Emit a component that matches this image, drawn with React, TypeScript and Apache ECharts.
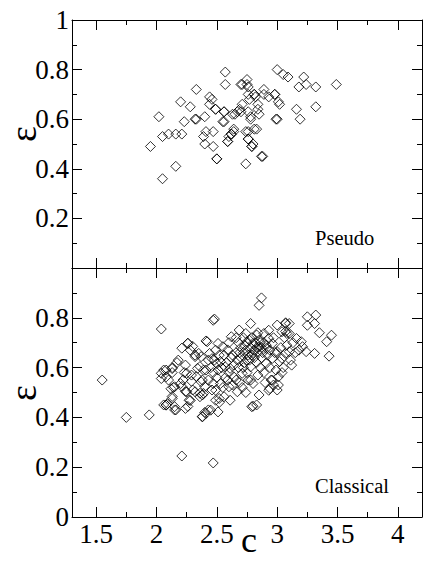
import React, { useEffect, useRef } from 'react';
import * as echarts from 'echarts';

// x tick values
const xMajorTicks = [1.5, 2, 2.5, 3, 3.5, 4];
const xMinorTicks = [1.75, 2.25, 2.75, 3.25, 3.75];

// Pseudo panel: [c, epsilon]
const pseudoPoints: number[][] = [
  [1.95, 0.49], [2.02, 0.61], [2.05, 0.36], [2.05, 0.53], [2.10, 0.54], [2.16, 0.54], [2.21, 0.54],
  [2.16, 0.41], [2.20, 0.67], [2.28, 0.65], [2.33, 0.72], [2.23, 0.59], [2.32, 0.60], [2.33, 0.60],
  [2.40, 0.61], [2.39, 0.53], [2.41, 0.55], [2.40, 0.50], [2.44, 0.69], [2.44, 0.66], [2.46, 0.68],
  [2.49, 0.64], [2.47, 0.55], [2.47, 0.49], [2.50, 0.44], [2.56, 0.63], [2.56, 0.59], [2.57, 0.79],
  [2.57, 0.74], [2.59, 0.51], [2.60, 0.53], [2.62, 0.54], [2.64, 0.55], [2.65, 0.62], [2.69, 0.64],
  [2.70, 0.63], [2.71, 0.74], [2.75, 0.76], [2.76, 0.73], [2.77, 0.68], [2.78, 0.61], [2.74, 0.55],
  [2.76, 0.52], [2.80, 0.50], [2.79, 0.49], [2.81, 0.56], [2.74, 0.42], [2.81, 0.70], [2.82, 0.69],
  [2.84, 0.66], [2.85, 0.62], [2.89, 0.72], [2.93, 0.69], [2.98, 0.70], [3.02, 0.66], [3.00, 0.60],
  [3.00, 0.80], [3.05, 0.78], [3.09, 0.77], [2.88, 0.45], [3.16, 0.64], [3.19, 0.60], [3.18, 0.73],
  [3.22, 0.77], [3.24, 0.74], [3.32, 0.73], [3.32, 0.65], [3.49, 0.74],
  [2.70, 0.74], [2.75, 0.74], [2.81, 0.70], [2.89, 0.70], [2.98, 0.70], [3.01, 0.67], [2.76, 0.70],
  [2.71, 0.66], [2.84, 0.64], [2.76, 0.63], [2.67, 0.63], [2.63, 0.62], [2.56, 0.63], [2.49, 0.64],
  [2.55, 0.59], [2.78, 0.60], [2.99, 0.60], [2.64, 0.56], [2.62, 0.54], [2.59, 0.51], [2.76, 0.55],
  [2.83, 0.56], [2.76, 0.52], [2.79, 0.49], [2.87, 0.45], [2.50, 0.44],
];

// Classical panel: [c, epsilon]
const classicalPoints: number[][] = [
  [1.55, 0.55], [1.75, 0.40], [1.94, 0.41], [2.04, 0.755], [2.21, 0.245], [2.47, 0.217], [2.85, 0.85],
  [2.87, 0.88], [2.47, 0.79], [2.48, 0.795], [2.80, 0.445], [2.85, 0.49],
  [2.04, 0.577], [2.06, 0.59], [2.08, 0.59], [2.13, 0.60], [2.10, 0.55], [2.14, 0.52], [2.13, 0.484],
  [2.08, 0.45], [2.09, 0.455], [2.16, 0.43], [2.21, 0.678], [2.26, 0.698], [2.30, 0.685], [2.18, 0.63],
  [2.24, 0.61], [2.22, 0.55], [2.25, 0.577], [2.21, 0.524], [2.24, 0.504], [2.26, 0.444], [2.28, 0.468],
  [2.30, 0.51], [2.33, 0.564], [2.36, 0.604], [2.37, 0.644], [2.41, 0.707], [2.35, 0.657], [2.32, 0.644],
  [2.38, 0.55], [2.38, 0.49], [2.38, 0.404], [2.40, 0.42], [2.43, 0.43], [2.41, 0.59], [2.43, 0.63],
  [2.44, 0.657], [2.40, 0.524], [2.36, 0.497],
  [2.42, 0.704], [2.26, 0.697], [2.28, 0.67], [2.49, 0.67], [2.32, 0.65], [2.46, 0.636], [2.50, 0.616],
  [2.17, 0.62], [2.13, 0.596], [2.04, 0.556], [2.08, 0.563], [2.13, 0.58], [2.23, 0.58], [2.29, 0.57],
  [2.34, 0.597], [2.39, 0.59], [2.43, 0.55], [2.47, 0.536], [2.37, 0.543], [2.29, 0.545], [2.20, 0.536],
  [2.15, 0.523], [2.12, 0.515], [2.25, 0.503], [2.32, 0.503], [2.39, 0.496], [2.46, 0.51], [2.13, 0.476],
  [2.27, 0.469], [2.36, 0.483], [2.49, 0.469], [2.06, 0.45], [2.15, 0.443], [2.08, 0.449], [2.15, 0.43],
  [2.24, 0.436], [2.38, 0.402], [2.41, 0.416], [2.45, 0.429], [2.51, 0.422], [2.52, 0.46], [2.79, 0.443],
  [2.78, 0.777], [3.0, 0.771], [3.07, 0.777], [3.08, 0.737], [3.04, 0.744], [2.685, 0.751], [2.74, 0.737],
  [2.62, 0.724], [2.83, 0.731], [2.89, 0.737], [2.93, 0.717], [2.75, 0.704], [2.80, 0.697], [2.85, 0.684],
  [2.91, 0.677], [2.96, 0.697], [3.0, 0.664], [3.04, 0.637], [3.07, 0.657], [3.02, 0.624], [2.96, 0.637],
  [2.91, 0.617], [2.99, 0.59], [2.95, 0.55], [3.01, 0.563], [2.93, 0.509], [2.80, 0.536], [2.83, 0.45],
  [2.76, 0.55], [2.78, 0.603], [2.71, 0.577], [2.67, 0.63], [2.63, 0.65], [2.59, 0.671], [2.55, 0.684],
  [2.51, 0.697], [2.48, 0.63], [2.53, 0.624], [2.57, 0.603], [2.61, 0.597], [2.51, 0.59], [2.64, 0.563],
  [2.59, 0.55], [2.53, 0.536], [2.49, 0.509], [2.60, 0.523], [2.67, 0.503], [2.56, 0.483], [2.52, 0.476],
  [2.61, 0.469],
  [2.70, 0.68], [2.72, 0.66], [2.74, 0.67], [2.76, 0.65], [2.78, 0.68], [2.80, 0.66], [2.82, 0.70],
  [2.84, 0.66], [2.86, 0.70], [2.88, 0.66], [2.68, 0.70], [2.70, 0.64], [2.73, 0.62], [2.77, 0.63],
  [2.81, 0.64], [2.83, 0.62], [2.87, 0.64], [2.89, 0.70], [2.66, 0.66], [2.64, 0.61], [2.68, 0.60],
  [2.72, 0.60], [2.75, 0.58], [2.62, 0.64], [2.58, 0.62], [2.56, 0.65], [2.54, 0.60], [2.60, 0.58],
  [2.57, 0.56], [2.63, 0.53], [2.66, 0.55], [2.69, 0.54], [2.71, 0.52], [2.55, 0.52],
  [2.60, 0.70], [2.66, 0.72], [2.72, 0.72], [2.79, 0.72], [2.84, 0.74], [2.93, 0.75], [2.97, 0.72],
  [2.92, 0.65], [2.94, 0.60], [2.89, 0.58], [2.86, 0.60], [2.84, 0.57], [2.90, 0.54], [2.97, 0.53],
  [2.74, 0.50], [2.98, 0.66], [2.50, 0.56], [2.52, 0.65], [2.45, 0.60], [2.47, 0.58],
  [2.73, 0.69], [2.77, 0.71], [2.81, 0.67], [2.85, 0.71], [2.87, 0.68], [2.91, 0.69], [2.79, 0.65],
  [2.83, 0.68], [2.69, 0.66], [2.75, 0.63], [2.94, 0.67],
  [3.25, 0.804], [3.32, 0.811], [3.25, 0.77], [3.31, 0.777], [3.35, 0.74], [3.45, 0.73], [3.41, 0.704],
  [3.43, 0.646], [3.31, 0.657], [3.24, 0.664], [3.20, 0.704], [3.16, 0.717], [3.21, 0.684], [3.18, 0.67],
  [3.10, 0.664], [3.11, 0.63], [3.10, 0.737], [3.10, 0.777], [3.07, 0.78], [3.07, 0.745], [3.01, 0.53],
  [2.96, 0.55], [2.94, 0.516], [2.78, 0.55], [3.05, 0.60], [3.08, 0.69], [3.13, 0.70], [3.06, 0.72],
  [3.03, 0.68], [3.12, 0.61], [3.04, 0.58], [3.00, 0.51], [3.15, 0.66],
];

const FONT = 'Times New Roman';
const X_MIN = 1.3;
const X_MAX = 4.2;

function xAxesFor(gridIndex: number, showLabels: boolean) {
  const base = {
    type: 'value',
    gridIndex,
    min: X_MIN,
    max: X_MAX,
    splitLine: { show: false },
  };
  const lineStyle = { color: '#000', width: 1 };
  return [
    {
      ...base,
      position: 'bottom',
      axisLine: { show: true, onZero: false, lineStyle },
      axisTick: { show: true, inside: true, length: 10, customValues: xMajorTicks, lineStyle },
      axisLabel: {
        show: showLabels,
        customValues: xMajorTicks,
        formatter: (v: number) => String(v),
        fontFamily: FONT,
        fontSize: 27,
        color: '#000',
        margin: 3,
      },
    },
    {
      ...base,
      position: 'bottom',
      axisLine: { show: false, onZero: false },
      axisTick: { show: true, inside: true, length: 5, customValues: xMinorTicks, lineStyle },
      axisLabel: { show: false },
    },
    {
      ...base,
      position: 'top',
      axisLine: { show: true, onZero: false, lineStyle },
      axisTick: { show: true, inside: true, length: 10, customValues: xMajorTicks, lineStyle },
      axisLabel: { show: false },
    },
    {
      ...base,
      position: 'top',
      axisLine: { show: false, onZero: false },
      axisTick: { show: true, inside: true, length: 5, customValues: xMinorTicks, lineStyle },
      axisLabel: { show: false },
    },
  ];
}

function yAxesFor(gridIndex: number, top: boolean) {
  const lineStyle = { color: '#000', width: 1 };
  const base = {
    type: 'value',
    gridIndex,
    min: 0,
    max: 1,
    interval: 0.2,
    splitLine: { show: false },
    axisLine: { show: true, onZero: false, lineStyle },
    axisTick: { show: true, inside: true, length: 10, lineStyle },
    minorTick: { show: true, splitNumber: 2, length: 5, lineStyle },
  };
  return [
    {
      ...base,
      position: 'left',
      axisLabel: {
        show: true,
        showMinLabel: !top,
        showMaxLabel: top,
        fontFamily: FONT,
        fontSize: 27,
        color: '#000',
        margin: 3,
      },
    },
    {
      ...base,
      position: 'right',
      axisLabel: { show: false },
    },
  ];
}

function label(text: string, x: number, y: number, size: number, align: string, rotation = 0) {
  return {
    type: 'text',
    x,
    y,
    rotation,
    style: {
      text,
      fontFamily: FONT,
      fontSize: size,
      fill: '#000',
      textAlign: align,
      textVerticalAlign: 'middle',
    },
  };
}

export default function App() {
  const ref = useRef<HTMLDivElement>(null);
  useEffect(() => {
    if (!ref.current) return;
    const chart = echarts.init(ref.current, null, { renderer: 'svg' });
    const symbolStyle = { color: 'rgba(0,0,0,0)', borderColor: '#000', borderWidth: 1 };
    chart.setOption({
      animation: false,
      backgroundColor: '#fff',
      grid: [
        { left: 72, top: 20, width: 350, height: 248 },
        { left: 72, top: 268, width: 350, height: 249 },
      ],
      xAxis: [...xAxesFor(0, false), ...xAxesFor(1, true)],
      yAxis: [...yAxesFor(0, true), ...yAxesFor(1, false)],
      series: [
        {
          type: 'scatter',
          xAxisIndex: 0,
          yAxisIndex: 0,
          data: pseudoPoints,
          symbol: 'diamond',
          symbolSize: 10,
          itemStyle: symbolStyle,
        },
        {
          type: 'scatter',
          xAxisIndex: 4,
          yAxisIndex: 2,
          data: classicalPoints,
          symbol: 'diamond',
          symbolSize: 10,
          itemStyle: symbolStyle,
        },
      ],
      graphic: [
        label('ε', 23, 134, 38, 'center', Math.PI / 2),
        label('ε', 23, 393, 38, 'center', Math.PI / 2),
        label('c', 249, 540, 36, 'center'),
        label('Pseudo', 315, 238, 20.5, 'left'),
        label('Classical', 315, 486, 20.5, 'left'),
      ],
    });
    return () => chart.dispose();
  }, []);
  return (
    <div
      ref={ref}
      style={{ position: 'fixed', left: 0, top: 0, width: 424, height: 563, background: '#fff' }}
    />
  );
}
